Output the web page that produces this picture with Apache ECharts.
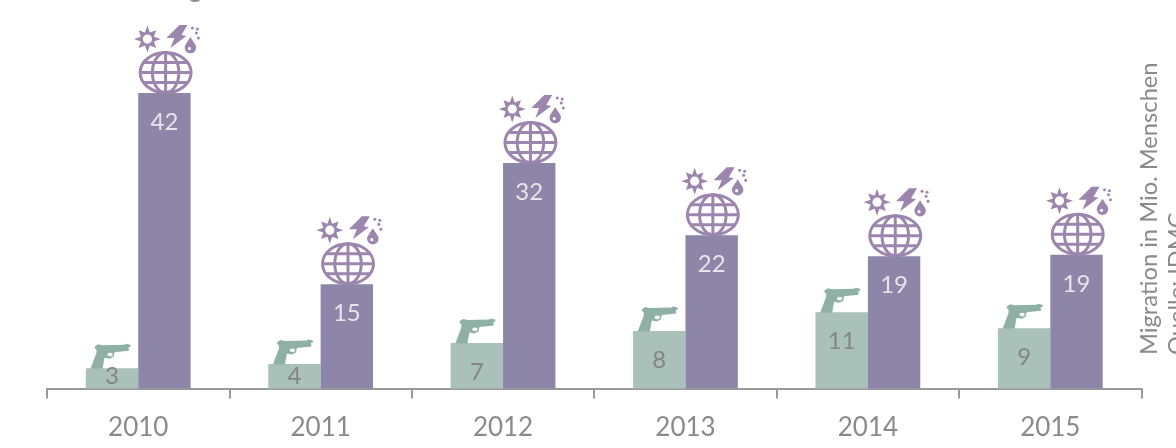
<!DOCTYPE html>
<html><head><meta charset="utf-8">
<style>html,body{margin:0;padding:0;background:#fff;overflow:hidden}#c{width:1176px;height:448px}</style>
<script src="https://cdn.jsdelivr.net/npm/echarts@6/dist/echarts.min.js"></script>
</head><body><div id="c"></div>
<script>
const years = ['2010','2011','2012','2013','2014','2015'];
const conflict = [2.9,3.5,6.5,8.2,10.9,8.6];
const disaster = [42.2,14.9,32.2,21.9,18.9,19.1];
const PURPLE = '#8d86a9', GREEN = '#a9c1b8', ICON = '#9c86ad', GUN = '#8fb0a5', TXT = '#8a8a8a';
const FONT = 'Lato, "Open Sans", sans-serif';

const sunPts = [[0,-13.5],[2.4,-6.5],[8.8,-8.8],[6.5,-2.4],[13.5,0],[6.5,2.4],[8.8,8.8],[2.4,6.5],[0,13.5],[-2.4,6.5],[-8.8,8.8],[-6.5,2.4],[-13.5,0],[-6.5,-2.4],[-8.8,-8.8],[-2.4,-6.5]];
const boltPts = [[16,-68],[24,-68],[18,-58],[23,-57],[7,-45],[11,-55],[3,-55]];
const dropPts = [[0,-9],[3.5,-3.5],[5.5,1],[-5.5,1],[-3.5,-3.5]];
const gunPts = [[-15,2],[-12,0.5],[-8,1.5],[14,1],[15,0],[20,1],[20,3],[18,3.5],[18.5,7],[4,8.5],[3,13],[-1,15],[-6,14],[-8,25],[-20,25],[-14,9],[-14,6],[-16,4]];

function poly(pts, x, y, fill) {
  return {type: 'polygon', x: x, y: y, shape: {points: pts}, style: {fill: fill}, silent: true};
}
function dot(cx, cy, r, fill) {
  return {type: 'circle', shape: {cx: cx, cy: cy, r: r}, style: {fill: fill}, silent: true};
}
function globe(cx, cy, rx, ry) {
  const st = {stroke: ICON, fill: 'none', lineWidth: 3};
  const e = (a, b) => ({type: 'ellipse', shape: {cx: cx, cy: cy, rx: a, ry: b}, style: st, silent: true});
  const l = (x1, y1, x2, y2) => ({type: 'line', shape: {x1, y1, x2, y2}, style: st, silent: true});
  return [
    e(rx, ry), e(rx * 0.52, ry),
    l(cx, cy - ry, cx, cy + ry),
    l(cx - rx, cy, cx + rx, cy),
    l(cx - rx * 0.86, cy - ry * 0.5, cx + rx * 0.86, cy - ry * 0.5),
    l(cx - rx * 0.86, cy + ry * 0.5, cx + rx * 0.86, cy + ry * 0.5)
  ];
}
function iconItem(params, api) {
  const p = api.coord([api.value(0), api.value(1)]);
  const x = p[0] + 26.2, y = p[1];
  const kids = globe(x + 1.2, y - 20.5, 25.5, 20);
  kids.push(poly(sunPts, x - 17, y - 54, ICON));
  kids.push(dot(x - 17, y - 54, 4.6, '#fff'));
  kids.push(poly(boltPts, x - 1, y, ICON));
  kids.push(poly(dropPts, x + 26, y - 47, ICON));
  kids.push(dot(x + 26, y - 45.5, 5.7, ICON));
  kids.push(dot(x + 25, y - 44.5, 1.6, '#fff'));
  [[28,-65],[33,-64],[32,-60],[34,-55]].forEach(o => kids.push(dot(x + o[0], y + o[1], 1.5, ICON)));
  return {type: 'group', children: kids};
}
function gunItem(params, api) {
  const p = api.coord([api.value(0), api.value(1)]);
  const x = p[0] - 27.7, y = p[1] - 24.5;
  return {type: 'group', children: [
    poly(gunPts, x, y, GUN),
    {type: 'ellipse', shape: {cx: x - 0.5, cy: y + 10.8, rx: 2.6, ry: 1.8}, style: {fill: '#fff'}, silent: true}
  ]};
}
const fmt = p => String(Math.round(p.value));
const chart = echarts.init(document.getElementById('c'), null, {renderer: 'canvas'});
const labelBase = {show: true, position: 'insideTop', distance: 17, fontFamily: FONT, fontSize: 24, formatter: fmt};
const smallLabel = {position: 'insideBottom', distance: 0};
chart.setOption({
  animation: false,
  grid: {left: 47, right: 34.5, top: 3.5, bottom: 59.5},
  xAxis: {
    type: 'category', data: years,
    axisLine: {lineStyle: {color: '#9a9a9a', width: 2}},
    axisTick: {show: true, length: 10, alignWithLabel: false, lineStyle: {color: '#9a9a9a', width: 2}},
    axisLabel: {color: TXT, fontFamily: FONT, fontSize: 26, margin: 26}
  },
  yAxis: {type: 'value', min: 0, max: 55, show: false, splitLine: {show: false}},
  series: [
    {type: 'bar', name: 'Konflikte', barWidth: 52.4, barGap: 0, itemStyle: {color: GREEN},
     data: conflict.map(v => v < 5 ? {value: v, label: smallLabel} : v),
     label: Object.assign({}, labelBase, {color: '#858585'})},
    {type: 'bar', name: 'Katastrophen', data: disaster, barWidth: 52.4, barGap: 0, itemStyle: {color: PURPLE},
     label: Object.assign({}, labelBase, {color: '#e6e6ea'})},
    {type: 'custom', data: years.map((y, i) => [i, disaster[i]]), renderItem: iconItem, encode: {x: 0, y: 1}, z: 5, silent: true},
    {type: 'custom', data: years.map((y, i) => [i, conflict[i]]), renderItem: gunItem, encode: {x: 0, y: 1}, z: 5, silent: true}
  ],
  graphic: [
    {type: 'text', x: 1149, y: 355, rotation: Math.PI / 2, style: {text: 'Migration in Mio. Menschen', fill: TXT, font: '23.7px ' + FONT, textAlign: 'left', textVerticalAlign: 'middle'}, silent: true},
    {type: 'text', x: 1177, y: 355, rotation: Math.PI / 2, style: {text: 'Quelle: IDMC', fill: TXT, font: '23.7px ' + FONT, textAlign: 'left', textVerticalAlign: 'middle'}, silent: true},
    {type: 'ellipse', shape: {cx: 195, cy: -2, rx: 6, ry: 4}, style: {fill: '#8a8a8a'}, silent: true}
  ]
});
</script></body></html>
